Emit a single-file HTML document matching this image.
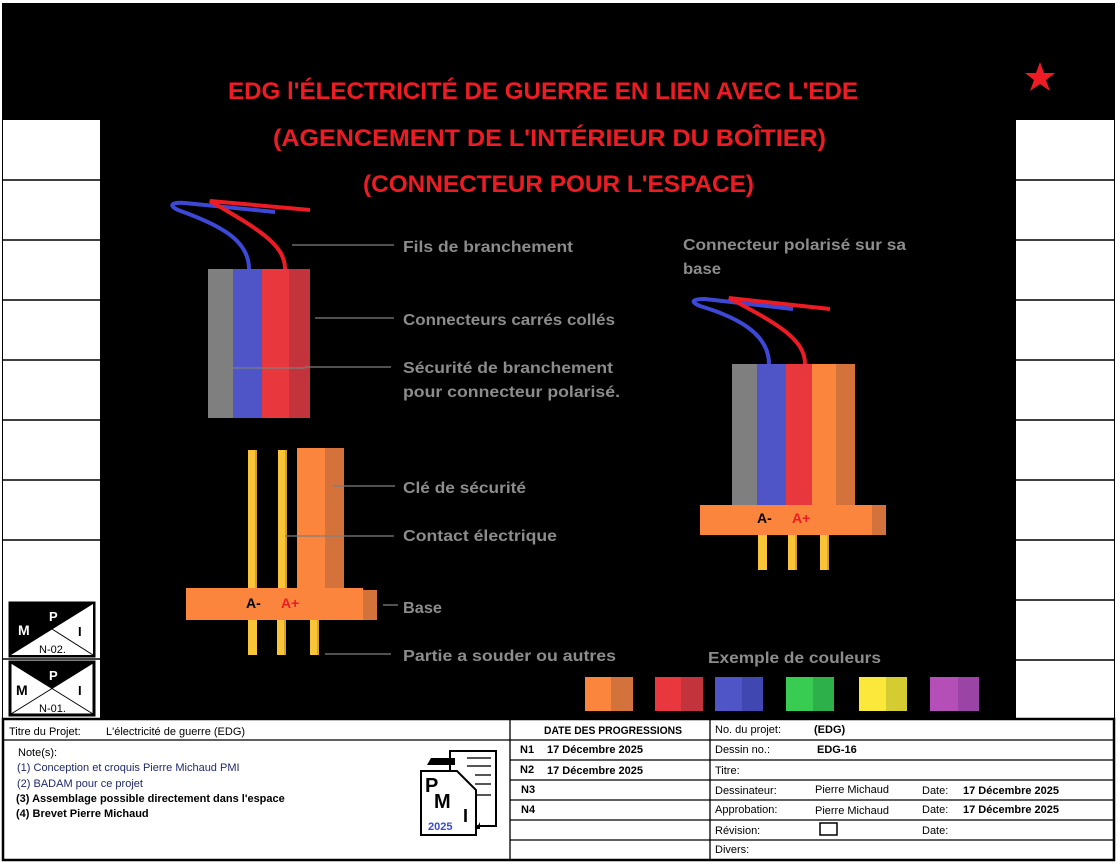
<!DOCTYPE html>
<html><head><meta charset="utf-8"><style>
html,body{margin:0;padding:0;background:#fff}
svg{display:block}
text{font-family:"Liberation Sans",sans-serif}
</style></head><body>
<svg width="1120" height="866" viewBox="0 0 1120 866" xmlns="http://www.w3.org/2000/svg">
<rect x="0" y="0" width="1120" height="866" fill="#fff"/>
<rect x="2" y="3" width="1113" height="716" fill="#000"/>
<!-- side columns -->
<rect x="3" y="120" width="97" height="480" fill="#fff"/>
<rect x="1016" y="120" width="98" height="598" fill="#fff"/>
<g stroke="#000" stroke-width="1.5">
<line x1="3" y1="180" x2="100" y2="180"/><line x1="3" y1="240" x2="100" y2="240"/><line x1="3" y1="300" x2="100" y2="300"/>
<line x1="3" y1="360" x2="100" y2="360"/><line x1="3" y1="420" x2="100" y2="420"/><line x1="3" y1="480" x2="100" y2="480"/>
<line x1="3" y1="540" x2="100" y2="540"/>
<line x1="1016" y1="180" x2="1114" y2="180"/><line x1="1016" y1="240" x2="1114" y2="240"/><line x1="1016" y1="300" x2="1114" y2="300"/>
<line x1="1016" y1="360" x2="1114" y2="360"/><line x1="1016" y1="420" x2="1114" y2="420"/><line x1="1016" y1="480" x2="1114" y2="480"/>
<line x1="1016" y1="540" x2="1114" y2="540"/><line x1="1016" y1="600" x2="1114" y2="600"/><line x1="1016" y1="660" x2="1114" y2="660"/>
</g>
<rect x="3" y="600" width="97" height="118" fill="#fff"/>
<line x1="3" y1="659" x2="100" y2="659" stroke="#000" stroke-width="1.5"/>
<!-- logo N-02 -->
<rect x="10" y="603" width="84" height="53" fill="#000" stroke="#000" stroke-width="3"/>
<polygon points="11,655 93,604 93,655" fill="#fff"/>
<line x1="52" y1="629" x2="93" y2="655" stroke="#000" stroke-width="1"/>
<text x="18" y="635" font-size="14" font-weight="bold" fill="#fff">M</text>
<text x="49" y="621" font-size="13" font-weight="bold" fill="#fff">P</text>
<text x="78" y="636" font-size="13" font-weight="bold" fill="#000">I</text>
<text x="39" y="653" font-size="11" fill="#000">N-02.</text>
<!-- logo N-01 -->
<rect x="10" y="662" width="84" height="53" fill="#fff" stroke="#000" stroke-width="3"/>
<polygon points="11,663 93,663 52,688" fill="#000"/>
<line x1="11" y1="714" x2="93" y2="663" stroke="#000" stroke-width="1"/>
<line x1="11" y1="663" x2="93" y2="714" stroke="#000" stroke-width="1"/>
<text x="16" y="695" font-size="14" font-weight="bold" fill="#000">M</text>
<text x="49" y="680" font-size="13" font-weight="bold" fill="#fff">P</text>
<text x="78" y="695" font-size="13" font-weight="bold" fill="#000">I</text>
<text x="39" y="712" font-size="11" fill="#000">N-01.</text>

<!-- star -->
<polygon points="1040,62 1044,73 1055,73 1046,80 1050,91 1040,84 1030,91 1034,80 1025,73 1036,73" fill="#ed1c24"/>
<!-- title -->
<g fill="#ed1c24" font-weight="bold" font-size="24">
<text x="228" y="99" textLength="630" lengthAdjust="spacingAndGlyphs">EDG l'ÉLECTRICITÉ DE GUERRE EN LIEN AVEC L'EDE</text>
<text x="273" y="146" textLength="553" lengthAdjust="spacingAndGlyphs">(AGENCEMENT DE L'INTÉRIEUR DU BOÎTIER)</text>
<text x="363" y="192" textLength="391" lengthAdjust="spacingAndGlyphs">(CONNECTEUR POUR L'ESPACE)</text>
</g>

<!-- left connector -->
<rect x="208" y="269" width="25" height="149" fill="#7f7f7f"/>
<rect x="233" y="269" width="29" height="149" fill="#4f55c6"/>
<rect x="262" y="269" width="27" height="149" fill="#e8383d"/>
<rect x="289" y="269" width="21" height="149" fill="#c2333b"/>
<path d="M249,269 C249,240 220,225 178,210 C168,205 172,202 185,203 L275,212" fill="none" stroke="#3d49d6" stroke-width="4"/>
<path d="M285,269 C285,245 260,230 210,201 L310,210" fill="none" stroke="#ed1c24" stroke-width="4"/>
<!-- lower parts -->
<rect x="248" y="450" width="9" height="140" fill="#f9c437"/><rect x="255" y="450" width="2" height="140" fill="#d4a32a"/>
<rect x="278" y="450" width="9" height="140" fill="#f9c437"/><rect x="285" y="450" width="2" height="140" fill="#d4a32a"/>
<rect x="297" y="448" width="28" height="142" fill="#fb853d"/>
<rect x="325" y="448" width="19" height="142" fill="#d3733b"/>
<rect x="186" y="588" width="177" height="32" fill="#fb853d"/>
<rect x="363" y="590" width="14" height="30" fill="#d3733b"/>
<rect x="248" y="620" width="9" height="35" fill="#f9c437"/>
<rect x="277" y="620" width="9" height="35" fill="#f9c437"/><rect x="284" y="620" width="2" height="35" fill="#d4a32a"/>
<rect x="310" y="620" width="9" height="35" fill="#f9c437"/><rect x="317" y="620" width="2" height="35" fill="#d4a32a"/>
<text x="246" y="608" font-size="14" font-weight="bold" fill="#000">A-</text>
<text x="281" y="608" font-size="14" font-weight="bold" fill="#ed1c24">A+</text>

<!-- leader lines -->
<g stroke="#7f7f7f" stroke-width="1.3">
<line x1="292" y1="245" x2="394" y2="245"/>
<line x1="315" y1="318" x2="394" y2="318"/>
<line x1="218" y1="368" x2="305" y2="368"/><line x1="305" y1="367" x2="391" y2="367"/>
<line x1="333" y1="486" x2="395" y2="486"/>
<line x1="285" y1="536" x2="394" y2="536"/>
<line x1="383" y1="605" x2="398" y2="605"/>
<line x1="325" y1="654" x2="391" y2="654"/>
</g>
<g fill="#8c8c8c" font-weight="bold" font-size="16">
<text x="403" y="252" textLength="170" lengthAdjust="spacingAndGlyphs">Fils de branchement</text>
<text x="403" y="325" textLength="212" lengthAdjust="spacingAndGlyphs">Connecteurs carrés collés</text>
<text x="403" y="373" textLength="210" lengthAdjust="spacingAndGlyphs">Sécurité de branchement</text>
<text x="403" y="397" textLength="217" lengthAdjust="spacingAndGlyphs">pour connecteur polarisé.</text>
<text x="403" y="493" textLength="123" lengthAdjust="spacingAndGlyphs">Clé de sécurité</text>
<text x="403" y="541" textLength="154" lengthAdjust="spacingAndGlyphs">Contact électrique</text>
<text x="403" y="613" textLength="39" lengthAdjust="spacingAndGlyphs">Base</text>
<text x="403" y="661" textLength="213" lengthAdjust="spacingAndGlyphs">Partie a souder ou autres</text>
<text x="683" y="250" textLength="223" lengthAdjust="spacingAndGlyphs">Connecteur polarisé sur sa</text>
<text x="683" y="274" textLength="38" lengthAdjust="spacingAndGlyphs">base</text>
<text x="708" y="663" textLength="173" lengthAdjust="spacingAndGlyphs">Exemple de couleurs</text>
</g>

<!-- right connector -->
<rect x="732" y="364" width="25" height="142" fill="#7f7f7f"/>
<rect x="757" y="364" width="29" height="142" fill="#4f55c6"/>
<rect x="786" y="364" width="26" height="142" fill="#e8383d"/>
<rect x="812" y="364" width="24" height="142" fill="#fb853d"/>
<rect x="836" y="364" width="19" height="142" fill="#d3733b"/>
<path d="M769,364 C769,335 740,318 700,306 C690,302 692,299 705,299 L793,309" fill="none" stroke="#3d49d6" stroke-width="4"/>
<path d="M805,364 C805,340 780,325 729,298 L830,309" fill="none" stroke="#ed1c24" stroke-width="4"/>
<rect x="700" y="505" width="172" height="30" fill="#fb853d"/>
<rect x="872" y="505" width="14" height="30" fill="#d3733b"/>
<rect x="758" y="535" width="9" height="35" fill="#f9c437"/>
<rect x="788" y="535" width="9" height="35" fill="#f9c437"/><rect x="795" y="535" width="2" height="35" fill="#d4a32a"/>
<rect x="820" y="535" width="9" height="35" fill="#f9c437"/><rect x="827" y="535" width="2" height="35" fill="#d4a32a"/>
<text x="757" y="523" font-size="14" font-weight="bold" fill="#000">A-</text>
<text x="792" y="523" font-size="14" font-weight="bold" fill="#ed1c24">A+</text>

<!-- swatches -->
<rect x="585" y="677" width="26" height="34" fill="#fb853d"/><rect x="611" y="677" width="22" height="34" fill="#d3733b"/>
<rect x="655" y="677" width="26" height="34" fill="#e8383d"/><rect x="681" y="677" width="22" height="34" fill="#c2333b"/>
<rect x="715" y="677" width="27" height="34" fill="#4f55c6"/><rect x="742" y="677" width="21" height="34" fill="#4147b0"/>
<rect x="786" y="677" width="27" height="34" fill="#39cc52"/><rect x="813" y="677" width="21" height="34" fill="#2db04a"/>
<rect x="859" y="677" width="27" height="34" fill="#fbe83a"/><rect x="886" y="677" width="21" height="34" fill="#d4cc30"/>
<rect x="930" y="677" width="28" height="34" fill="#b44fb8"/><rect x="958" y="677" width="21" height="34" fill="#9a45a5"/>

<!-- title block -->
<rect x="3" y="719" width="1111" height="141" fill="#fff" stroke="#000" stroke-width="2.5"/>
<g stroke="#000" stroke-width="1.3">
<line x1="3" y1="740" x2="510" y2="740"/>
<line x1="510" y1="719" x2="510" y2="860"/>
<line x1="710" y1="719" x2="710" y2="860"/>
<line x1="510" y1="740" x2="1114" y2="740"/>
<line x1="510" y1="760" x2="1114" y2="760"/>
<line x1="510" y1="780" x2="1114" y2="780"/>
<line x1="510" y1="800" x2="1114" y2="800"/>
<line x1="510" y1="820" x2="1114" y2="820"/>
<line x1="510" y1="840" x2="1114" y2="840"/>
</g>
<g font-size="11" fill="#000">
<text x="9" y="735">Titre du Projet:</text>
<text x="106" y="735">L'électricité de guerre (EDG)</text>
<text x="18" y="756">Note(s):</text>
<text x="17" y="771" fill="#1f2a6b">(1) Conception et croquis Pierre Michaud PMI</text>
<text x="17" y="787" fill="#1f2a6b">(2) BADAM pour ce projet</text>
<text x="16" y="802" font-weight="bold">(3) Assemblage possible directement dans l'espace</text>
<text x="16" y="817" font-weight="bold">(4) Brevet Pierre Michaud</text>
<text x="544" y="734" font-weight="bold" textLength="138" lengthAdjust="spacingAndGlyphs">DATE DES PROGRESSIONS</text>
<text x="520" y="753" font-weight="bold">N1</text><text x="547" y="753" font-weight="bold">17 Décembre 2025</text>
<text x="520" y="773" font-weight="bold">N2</text><text x="547" y="774" font-weight="bold">17 Décembre 2025</text>
<text x="521" y="793" font-weight="bold">N3</text>
<text x="521" y="813" font-weight="bold">N4</text>
<text x="715" y="733">No. du projet:</text><text x="814" y="733" font-weight="bold">(EDG)</text>
<text x="715" y="753">Dessin no.:</text><text x="817" y="753" font-weight="bold">EDG-16</text>
<text x="715" y="774">Titre:</text>
<text x="715" y="794">Dessinateur:</text><text x="815" y="793">Pierre Michaud</text>
<text x="922" y="794">Date:</text><text x="963" y="794" font-weight="bold">17 Décembre 2025</text>
<text x="715" y="813">Approbation:</text><text x="815" y="814">Pierre Michaud</text>
<text x="922" y="813">Date:</text><text x="963" y="813" font-weight="bold">17 Décembre 2025</text>
<text x="715" y="834">Révision:</text>
<text x="922" y="834">Date:</text>
<text x="715" y="853">Divers:</text>
</g>
<rect x="820" y="823" width="17" height="12" fill="none" stroke="#000" stroke-width="1.5"/>
<!-- PMI logo -->
<g>
<rect x="450" y="751" width="46" height="75" fill="#fff" stroke="#000" stroke-width="2"/>
<g stroke="#555" stroke-width="2"><line x1="467" y1="758" x2="491" y2="758"/><line x1="467" y1="766" x2="491" y2="766"/><line x1="475" y1="775" x2="491" y2="775"/><line x1="475" y1="784" x2="491" y2="784"/><line x1="475" y1="795" x2="491" y2="795"/></g>
<polygon points="427,765 431,758 455,758 455,765" fill="#000"/>
<polygon points="421,771 457,771 476,790 476,835 421,835" fill="#fff" stroke="#000" stroke-width="2"/>
<polygon points="476,829 480,822 480,829" fill="#000"/>
<text x="425" y="792" font-size="20" font-weight="bold" fill="#000">P</text>
<text x="434" y="808" font-size="20" font-weight="bold" fill="#000">M</text>
<text x="463" y="822" font-size="18" font-weight="bold" fill="#000">I</text>
<text x="428" y="830" font-size="11" font-weight="bold" fill="#3d49d6">2025</text>
</g>
</svg>
</body></html>
